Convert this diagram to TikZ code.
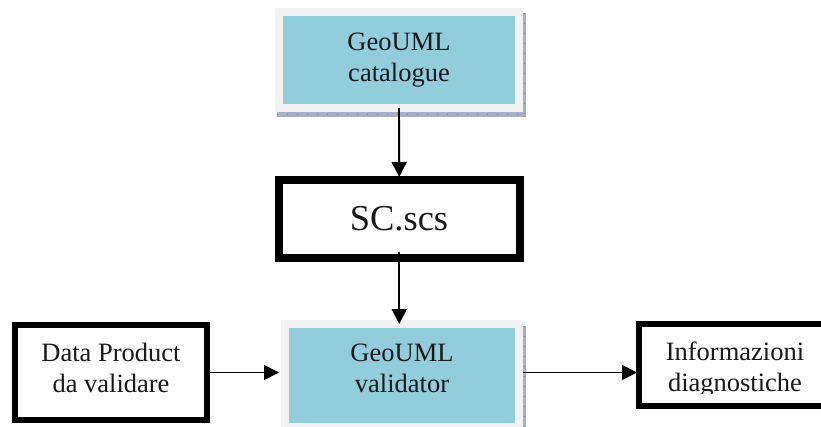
\documentclass[tikz,border=0pt]{standalone}
\usepackage{fontspec}
\setmainfont{Liberation Serif}
\usetikzlibrary{arrows.meta}
\definecolor{lightedge}{HTML}{F2F2F2}
\definecolor{paleblue}{HTML}{92CDDC}
\definecolor{shadowfill}{HTML}{A4AFC8}
\definecolor{shadowtick}{HTML}{6F7FA3}
\tikzset{
  x=1pt,y=-1pt,
  shadowbox/.style={fill=shadowfill,draw=none,inner sep=0pt,outer sep=0pt},
  bluebox/.style={draw=lightedge,fill=paleblue,line width=8pt,inner sep=0pt,outer sep=0pt},
  blackbox/.style={draw=black,fill=white,inner sep=0pt,outer sep=0pt},
  boxtext/.style={font=\fontsize{26.5}{31}\selectfont,align=center,inner sep=0pt,text=black!90},
  conn/.style={draw=black,line width=1.9pt,-{Triangle[length=15pt,width=15pt]}},
  tick/.style={draw=shadowtick,line width=0.9pt,dash pattern=on 1pt off 9pt}
}
\begin{document}
\begin{tikzpicture}
\useasboundingbox (0,0) rectangle (821,427);
\fill[white] (0,0) rectangle (821,427);
% shadows
\node[shadowbox,minimum width=249pt,minimum height=104pt] (catshadow) at (401.5,65) {};
\node[shadowbox,minimum width=245pt,minimum height=110pt] (valshadow) at (403.5,381) {};
\draw[tick] (catshadow.south west) ++(0,-2.5) -- ++(249,0);
\draw[tick] (catshadow.north east) ++(-1.5,0) -- ++(0,104);
\draw[tick] (valshadow.north east) ++(-1.5,0) -- ++(0,110);
% boxes
\node[bluebox,minimum width=240pt,minimum height=96pt] (cat) at (399,60) {};
\node[blackbox,line width=8pt,minimum width=240.5pt,minimum height=78.5pt] (sc) at (399.25,219.25) {};
\node[bluebox,minimum width=234pt,minimum height=103pt] (val) at (402,375.5) {};
\node[blackbox,line width=5.7pt,minimum width=192.3pt,minimum height=95.3pt] (data) at (111,372.5) {};
\node[blackbox,line width=5.7pt,minimum width=195pt,minimum height=82.3pt] (info) at (736.5,365) {};
% texts
\node[boxtext] (cattext) at (399,60.5) {GeoUML\\catalogue};
\node[boxtext,font=\fontsize{36.5}{40}\selectfont] (sctext) at (399,218.5) {SC.scs};
\node[boxtext] (valtext) at (402,368) {GeoUML\\validator};
\node[boxtext] (datatext) at (111,368) {Data Product\\da validare};
\begin{scope}
\clip (640,330) rectangle (821,393.5);
\node[boxtext] (infotext) at (735,369.5) {Informazioni\\diagnostiche};
\end{scope}
% connectors
\draw[conn,shorten >=3pt] (cat.south) -- (sc.north);
\draw[conn,shorten <=-6.5pt] (sc.south) -- (sc.south |- val.north);
\draw[conn,line width=1.7pt,shorten >=6pt] (data.east) -- (data.east -| val.west);
\draw[conn,line width=1.7pt,shorten <=4pt,shorten >=2pt] (val.east |- data.east) -- (info.west |- data.east);
\end{tikzpicture}
\end{document}
